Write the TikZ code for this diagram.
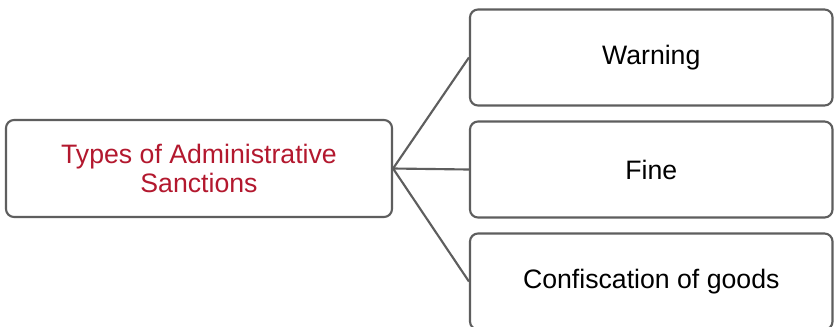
\documentclass[tikz,border=0pt]{standalone}
\usepackage{fontspec}
\setmainfont{Liberation Sans}
\definecolor{framegray}{HTML}{5E5E5E}
\definecolor{titlered}{HTML}{B3182E}
\begin{document}
\begin{tikzpicture}[x=0.75pt,y=-0.75pt,
  box/.style={draw=framegray,line width=1.6pt,rounded corners=6pt,fill=white,
    font=\fontsize{20}{22}\selectfont,align=center,inner sep=0pt},
  rootbox/.style={box,minimum width=289.5pt,minimum height=72.75pt,text=titlered},
  leafbox/.style={box,minimum width=271.9pt,minimum height=72pt},
  link/.style={draw=framegray,line width=1.6pt}]
\clip (0,0) rectangle (834,326);
\fill[white] (0,0) rectangle (834,326);
% root of the tree
\node[rootbox] (root) at (199,168.5) {Types of Administrative\\Sanctions};
% the three kinds of sanction
\node[leafbox] (warn) at (651.25,57.5) {Warning};
\node[leafbox] (fine) at (651.25,169.5) {Fine};
\node[leafbox] (conf) at (651.25,281.5) {Confiscation of goods};
% connectors
\draw[link] (root.east) -- (warn.west);
\draw[link] (root.east) -- (fine.west);
\draw[link] (root.east) -- (conf.west);
\end{tikzpicture}
\end{document}
